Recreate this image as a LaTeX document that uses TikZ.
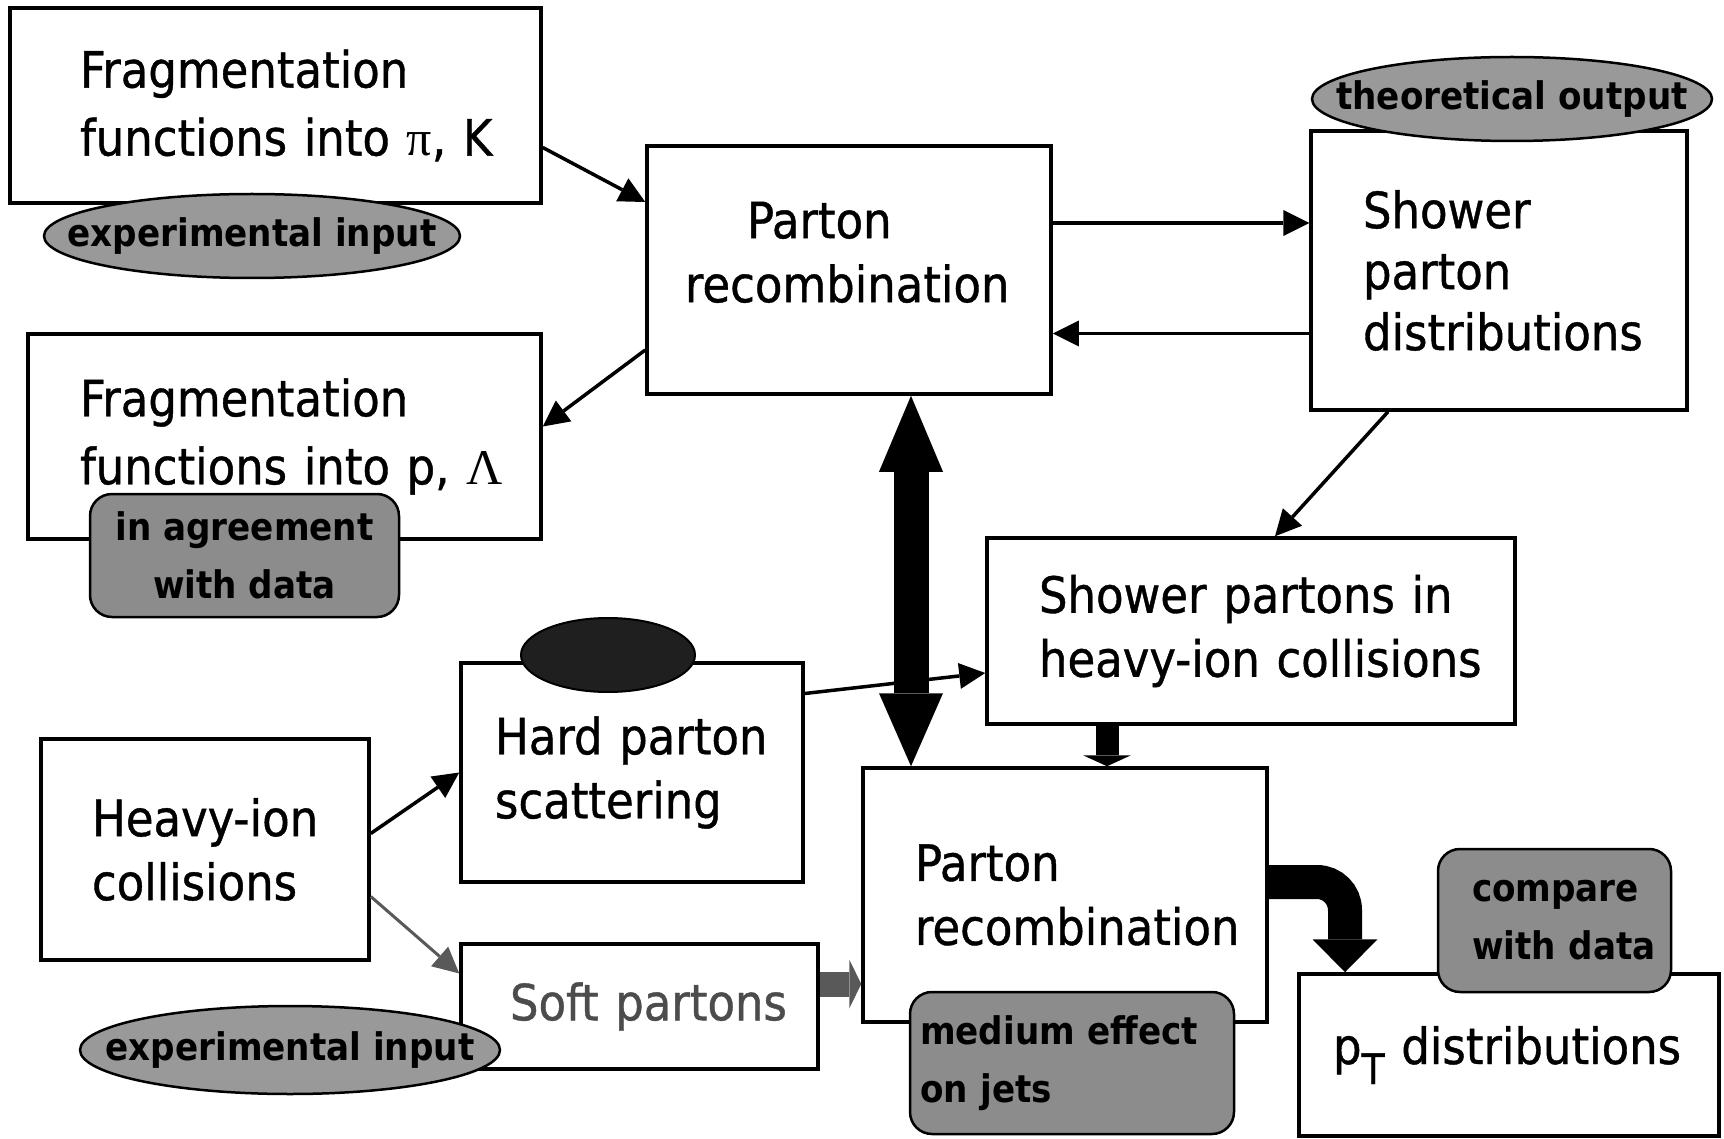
\documentclass[tikz,border=0pt]{standalone}
\usepackage{fontspec}
\setmainfont{DejaVu Sans Condensed}
\newfontfamily\boxfam{DejaVu Sans Condensed}[FakeBold=0.8]
\newfontfamily\grk{Liberation Serif}
\usetikzlibrary{arrows.meta,shapes.geometric}
\definecolor{labgray}{gray}{0.6}
\definecolor{labgrayd}{gray}{0.55}
\definecolor{softgray}{gray}{0.3}
\definecolor{darkarrow}{gray}{0.35}
\definecolor{blob}{gray}{0.12}
\newcommand\bxf{\boxfam\fontsize{50}{64}\selectfont}
\newcommand\bxff{\boxfam\fontsize{50}{68}\selectfont}
\newcommand\lbf{\fontsize{38}{58}\selectfont\bfseries}
\newcommand\ind[1]{\hspace*{#1pt}}
\begin{document}
\begin{tikzpicture}[x=1pt,y=-1pt,
  box/.style={draw, line width=3.5pt, rectangle, inner sep=0pt, align=left, font=\bxf},
  ell/.style={draw, line width=2.5pt, ellipse, fill=labgray, inner xsep=-80pt, inner ysep=0pt, font=\lbf},
  rbox/.style={draw, line width=2.5pt, rectangle, rounded corners=22pt, fill=labgrayd, inner sep=0pt, font=\lbf},
  thinarrow/.style={line width=3.5pt, -{Triangle[length=26pt,width=26pt,line width=0pt]}},
]
\fill[white] (0,0) rectangle (1724,1139);
\useasboundingbox (0,0) rectangle (1724,1139);

% boxes
\node[box, font=\bxff, text width=531pt, minimum height=195pt] (f1) at (275.5,105.5)
  {\ind{70}Fragmentation\\\ind{70}functions into {\grk π}, K};
\node[box, font=\bxff, text width=513pt, minimum height=205pt] (f2) at (284.5,436.5)
  {\ind{52}Fragmentation\\\ind{52}functions into p, {\grk Λ}};
\node[box, text width=404pt, minimum height=248pt] (pr1) at (849,270)
  {\ind{100}Parton\\\ind{38}recombination\\[-28pt]\mbox{}};
\node[box, font=\boxfam\fontsize{50}{61}\selectfont, text width=376pt, minimum height=279pt] (sd) at (1499,270.5)
  {\ind{52}Shower\\\ind{52}parton\\\ind{52}distributions};
\node[box, text width=528pt, minimum height=186pt] (sp) at (1251,631)
  {\ind{52}Shower partons in\\\ind{52}heavy-ion collisions};
\node[box, text width=342pt, minimum height=219pt] (hp) at (632,772.5)
  {\ind{34}Hard parton\\\ind{34}scattering};
\node[box, text width=328pt, minimum height=221pt] (hi) at (205,849.5)
  {\ind{51}Heavy-ion\\\ind{51}collisions};
\node[box, text=softgray, text width=357pt, minimum height=125pt] (soft) at (639.5,1006.5)
  {\ind{49}Soft partons};
\node[box, text width=404pt, minimum height=254pt] (pr2) at (1065,895)
  {\ind{52}Parton\\\ind{52}recombination};
\node[box, text width=420pt, minimum height=162pt] (pt) at (1509,1055)
  {\ind{34}p\raisebox{-20pt}{\fontsize{42}{42}\selectfont T} distributions};

% helper coordinates
\coordinate (bx) at (911,0);
\coordinate (sx) at (1107,0);
\coordinate (gy) at (0,984);
\coordinate (cy) at (0,882);
\coordinate (cx) at (1345,0);

% thin arrows
\draw[thinarrow] ([yshift=-42pt]f1.east) -- ([yshift=68pt]pr1.west);
\draw[thinarrow] ([yshift=47pt]pr1.east) -- ([yshift=47pt]pr1.east -| sd.west);
\draw[thinarrow] ([yshift=-63pt]sd.west) -- ([yshift=-63pt]sd.west -| pr1.east);
\draw[thinarrow] ([yshift=-80pt]pr1.west) -- ([yshift=10pt]f2.east);
\draw[thinarrow] ([xshift=-111pt]sd.south) -- ([xshift=24pt]sp.north);
\draw[thinarrow] ([yshift=79pt]hp.east) -- ([yshift=-42pt]sp.west);
\draw[thinarrow] ([yshift=16pt]hi.east) -- (hp.west);
\draw[line width=3pt, draw=darkarrow, -{Triangle[length=26pt,width=26pt,line width=0pt,fill=darkarrow]}]
  ([yshift=-47pt]hi.east) -- ([yshift=33pt]soft.west);

% thick arrows
\draw[line width=35pt, {Triangle[length=76pt,width=64pt,line width=0pt]}-{Triangle[length=73pt,width=64pt,line width=0pt]}]
  (pr1.south -| bx) -- (pr2.north -| bx);
\draw[line width=23pt, -{Triangle[length=11pt,width=48pt,line width=0pt]}]
  (sp.south -| sx) -- (pr2.north -| sx);
\draw[line width=25pt, draw=darkarrow, -{Triangle[length=12pt,width=49pt,line width=0pt,fill=darkarrow]}]
  (soft.east |- gy) -- (pr2.west |- gy);
\draw[line width=34pt, rounded corners=28pt, -{Triangle[length=33pt,width=65pt,line width=0pt]}]
  (pr2.east |- cy) -- (cx |- cy) -- (pt.north -| cx);

% labels
\node[ell, minimum width=416pt, minimum height=84pt] (e1) at (252,236) {experimental input};
\node[ell, minimum width=400pt, minimum height=84pt] (e2) at (1512,99) {theoretical output};
\node[ell, minimum width=420pt, minimum height=88pt] (e3) at (290,1050) {experimental input};
\node[ellipse, draw, line width=2pt, fill=blob, minimum width=174pt, minimum height=74pt, inner sep=0pt] (blk) at (608,655) {};
\node[rbox, align=center, minimum width=309pt, minimum height=123pt] (r1) at (244.5,555.5) {in agreement\\with data};
\node[rbox, align=left, text width=324pt, minimum height=142pt] (r2) at (1072,1063) {\ind{10}medium effect\\\ind{10}on jets};
\node[rbox, align=left, text width=233pt, minimum height=143pt] (r3) at (1554.5,920.5) {\ind{34}compare\\\ind{34}with data};
\end{tikzpicture}
\end{document}
